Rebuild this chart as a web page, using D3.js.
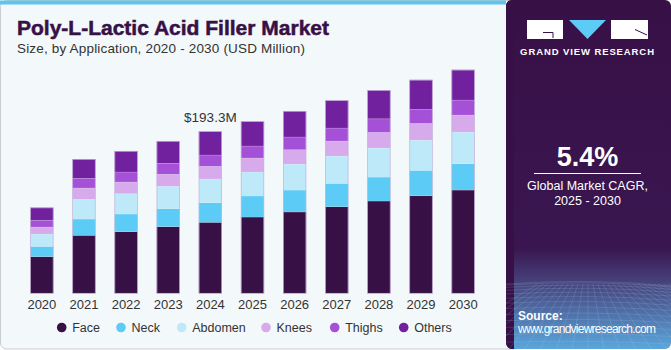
<!DOCTYPE html>
<html>
<head>
<meta charset="utf-8">
<script src="https://cdn.jsdelivr.net/npm/d3@7"></script>
<style>
  html, body { margin: 0; padding: 0; background: #ffffff; }
  svg { display: block; font-family: 'Liberation Sans', Arial, sans-serif; }
</style>
</head>
<body>
<svg id="mainFrame" width="671" height="350"></svg>
<script>
const svg = d3.select('#mainFrame');
const width = +svg.attr('width');
const height = +svg.attr('height');

// data (USD million)
const years = ['2020', '2021', '2022', '2023', '2024', '2025', '2026', '2027', '2028', '2029', '2030'];
const segments = ['Face', 'Neck', 'Abdomen', 'Knees', 'Thighs', 'Others'];
const face    = [43.7, 69.2, 73.5, 79.5, 84.7, 91.0, 97.0, 103.3, 110.1, 116.4, 123.2];
const neck    = [12.3, 19.4, 21.1, 21.5, 23.4, 25.1, 26.2, 27.9, 28.6, 30.3, 31.4];
const abdomen = [14.7, 23.5, 24.2, 26.7, 28.3, 28.6, 31.0, 32.6, 34.6, 36.1, 37.8];
const knees   = [8.4, 13.5, 14.0, 14.3, 15.1, 16.7, 17.1, 17.9, 18.7, 19.9, 20.3];
const thighs  = [8.0, 11.6, 11.9, 13.1, 13.5, 14.3, 15.2, 15.5, 16.2, 16.7, 17.9];
const others  = [15.2, 23.0, 25.1, 26.6, 28.3, 29.5, 31.0, 33.0, 34.2, 35.3, 36.1];
const colors  = ['#371046', '#5ccbf6', '#bde9f9', '#d6aaeb', '#a551d7', '#71209e'];
const annotationYear = '2024';
const annotationText = '$193.3M';
const cagrText = '5.4%';

const seriesValues = [face, neck, abdomen, knees, thighs, others];
const table = years.map((y, i) => {
    const row = { year: y };
    segments.forEach((s, j) => { row[s] = seriesValues[j][i]; });
    return row;
});

// background panels
const defs = svg.append('defs');
svg.append('rect')
    .attr('x', 0.5).attr('y', 0.5)
    .attr('width', 520).attr('height', height - 1.5)
    .attr('rx', 6)
    .attr('fill', '#f3f8fb')
    .attr('stroke', '#c9cdd1');

svg.append('rect')
    .attr('x', 0).attr('y', 0.5)
    .attr('width', 506).attr('height', 4)
    .attr('fill', '#5cc6ef');

const grad = defs.append('linearGradient')
    .attr('id', 'panelGrad')
    .attr('x1', 0).attr('y1', 0).attr('x2', 0).attr('y2', 1);
grad.append('stop').attr('offset', '0%').attr('stop-color', '#371046');
grad.append('stop').attr('offset', '72%').attr('stop-color', '#3a1650');
grad.append('stop').attr('offset', '82%').attr('stop-color', '#47457e');
grad.append('stop').attr('offset', '100%').attr('stop-color', '#5aa6dc');

const clip = defs.append('clipPath').attr('id', 'panelClip');
clip.append('rect')
    .attr('x', 506).attr('y', 0)
    .attr('width', 165).attr('height', height - 1)
    .attr('rx', 6);

const panel = svg.append('g').attr('clip-path', 'url(#panelClip)');
panel.append('rect')
    .attr('x', 506).attr('y', -10)
    .attr('width', 165).attr('height', height + 9)
    .attr('fill', 'url(#panelGrad)');
panel.append('rect')
    .attr('x', 506).attr('y', 0)
    .attr('width', 8).attr('height', height)
    .attr('fill', '#371046');

// faint perspective grid at the bottom of the panel
const gridG = panel.append('g')
    .attr('stroke', '#b9d4f0')
    .attr('stroke-opacity', 0.28)
    .attr('stroke-width', 0.6)
    .attr('fill', 'none');
d3.range(0, 14).forEach(k => {
    const t = k / 13;
    const yy = 284 + Math.pow(t, 1.6) * 66;
    gridG.append('path')
        .attr('d', `M506,${yy} Q590,${yy - 6 + t * 4} 671,${yy + 2}`);
});
d3.range(-10, 22).forEach(k => {
    const x0 = 588 + k * 5;
    const x1 = 588 + k * 16;
    gridG.append('line')
        .attr('x1', x0).attr('y1', 284)
        .attr('x2', x1).attr('y2', 350);
});

// logo
const logo = svg.append('g');
logo.append('rect').attr('x', 527).attr('y', 20).attr('width', 36).attr('height', 19).attr('fill', '#ffffff');
logo.append('path')
    .attr('d', 'M569,20 L606,20 L587.5,39 Z')
    .attr('fill', '#5ccbf6');
logo.append('rect').attr('x', 611).attr('y', 20).attr('width', 37).attr('height', 19).attr('fill', '#ffffff');
logo.append('path')
    .attr('d', 'M543,32.5 L553,32.5 M553,32.5 L553,38')
    .attr('stroke', '#371046').attr('stroke-width', 1).attr('fill', 'none');
logo.append('path')
    .attr('d', 'M635,29.5 L647,35')
    .attr('stroke', '#371046').attr('stroke-width', 1).attr('fill', 'none');
logo.append('text')
    .attr('x', 587.5).attr('y', 54.5)
    .attr('text-anchor', 'middle')
    .attr('fill', '#ffffff')
    .attr('font-size', 9.5)
    .attr('font-weight', 'bold')
    .attr('letter-spacing', 0.9)
    .text('GRAND VIEW RESEARCH');

// CAGR block
svg.append('text')
    .attr('x', 587.5).attr('y', 166)
    .attr('text-anchor', 'middle')
    .attr('fill', '#ffffff')
    .attr('font-size', 27)
    .attr('font-weight', 'bold')
    .text(cagrText);
svg.append('line')
    .attr('x1', 534).attr('x2', 641)
    .attr('y1', 173.5).attr('y2', 173.5)
    .attr('stroke', '#ffffff').attr('stroke-width', 1);
svg.append('text')
    .attr('x', 587.5).attr('y', 190)
    .attr('text-anchor', 'middle')
    .attr('fill', '#ffffff')
    .attr('font-size', 12.5)
    .text('Global Market CAGR,');
svg.append('text')
    .attr('x', 587.5).attr('y', 205)
    .attr('text-anchor', 'middle')
    .attr('fill', '#ffffff')
    .attr('font-size', 12.5)
    .text('2025 - 2030');

svg.append('text')
    .attr('x', 518).attr('y', 320)
    .attr('fill', '#ffffff')
    .attr('font-size', 12)
    .attr('font-weight', 'bold')
    .text('Source:');
svg.append('text')
    .attr('x', 518).attr('y', 333)
    .attr('fill', '#ffffff')
    .attr('font-size', 12)
    .attr('textLength', 138)
    .text('www.grandviewresearch.com');

// titles
svg.append('text')
    .attr('x', 17).attr('y', 34.5)
    .attr('fill', '#371046')
    .attr('stroke', '#371046')
    .attr('stroke-width', 0.5)
    .attr('font-size', 20)
    .attr('font-weight', 'bold')
    .attr('textLength', 312)
    .attr('lengthAdjust', 'spacingAndGlyphs')
    .text('Poly-L-Lactic Acid Filler Market');
svg.append('text')
    .attr('x', 17).attr('y', 53)
    .attr('fill', '#333333')
    .attr('font-size', 13.5)
    .attr('textLength', 288)
    .text('Size, by Application, 2020 - 2030 (USD Million)');

// chart
const xScale = d3.scaleBand()
    .domain(years)
    .range([21, 484])
    .paddingInner(0.45)
    .paddingOuter(0.22);

const yScale = d3.scaleLinear()
    .domain([0, 193.3])
    .range([293.3, 131.3]);

const colorScale = d3.scaleOrdinal()
    .domain(segments)
    .range(colors);

const stacked = d3.stack().keys(segments)(table);

const g = svg.append('g');
g.selectAll('g.layer').data(stacked)
    .enter().append('g')
        .attr('class', 'layer')
        .attr('fill', d => colorScale(d.key))
    .selectAll('rect').data(d => d)
    .enter().append('rect')
        .attr('x', d => xScale(d.data.year))
        .attr('y', d => yScale(d[1]))
        .attr('width', xScale.bandwidth())
        .attr('height', d => yScale(d[0]) - yScale(d[1]))
        .attr('stroke', '#ffffff')
        .attr('stroke-opacity', 0.25)
        .attr('stroke-width', 0.6);

// thin light outline round each bar
g.selectAll('rect.outline').data(table)
    .enter().append('rect')
        .attr('class', 'outline')
        .attr('x', d => xScale(d.year) + 0.3)
        .attr('y', d => yScale(d3.sum(segments, s => d[s])) + 0.3)
        .attr('width', xScale.bandwidth() - 0.6)
        .attr('height', d => yScale(0) - yScale(d3.sum(segments, s => d[s])) - 0.3)
        .attr('fill', 'none')
        .attr('stroke', '#c7b3dc')
        .attr('stroke-width', 0.7);

const xAxis = d3.axisBottom(xScale).tickSize(0).tickPadding(6);
const xAxisGroup = g.append('g')
    .attr('transform', `translate(0,${yScale(0)})`)
    .call(xAxis);
xAxisGroup.select('.domain').remove();
xAxisGroup.selectAll('text')
    .attr('fill', '#333333')
    .attr('font-size', 13)
    .attr('font-family', "'Liberation Sans', Arial, sans-serif");

const annRow = table.find(d => d.year === annotationYear);
g.append('text')
    .attr('x', xScale(annotationYear) + xScale.bandwidth() / 2)
    .attr('y', yScale(d3.sum(segments, s => annRow[s])) - 9)
    .attr('text-anchor', 'middle')
    .attr('fill', '#333333')
    .attr('font-size', 13.5)
    .text(annotationText);

// legend
const legendX = [61.7, 121, 181.7, 266, 334.7, 403.7];
const legend = svg.append('g');
const items = legend.selectAll('g').data(segments)
    .enter().append('g')
        .attr('transform', (d, i) => `translate(${legendX[i]},327.5)`);
items.append('circle')
    .attr('r', 4.8)
    .attr('fill', d => colorScale(d));
items.append('text')
    .attr('x', 10.5)
    .attr('y', 4.5)
    .attr('fill', '#333333')
    .attr('font-size', 12.5)
    .text(d => d);
</script>
</body>
</html>
